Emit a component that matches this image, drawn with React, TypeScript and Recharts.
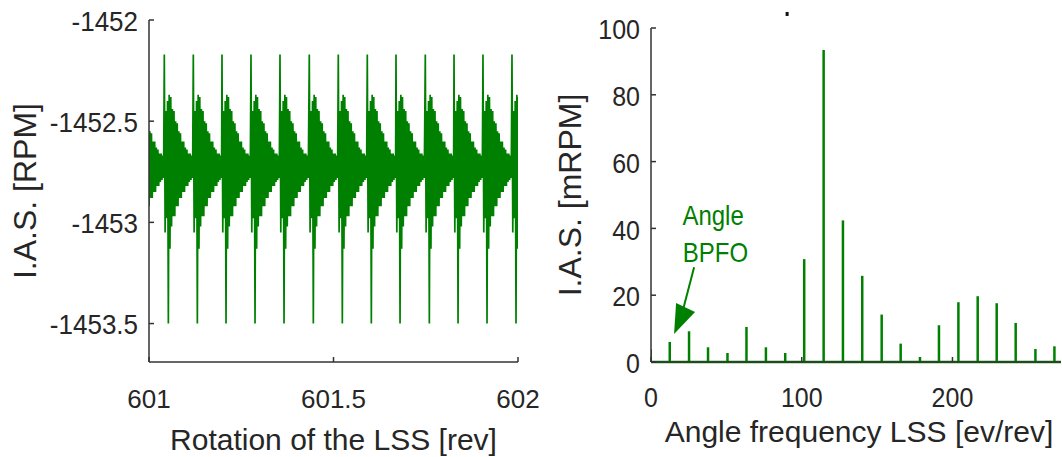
import React from 'react';
import {
  LineChart,
  Line,
  ComposedChart,
  Bar,
  XAxis,
  YAxis,
  Label,
  ReferenceLine,
  ReferenceDot,
} from 'recharts';

const FONT = '"Liberation Sans", Arial, Helvetica, sans-serif';
const INK = '#262626';
const AXIS = '#333333';
const GREEN = '#008000';

// left panel: shock instants (rev) and the damped I.A.S. burst that follows each one
const impactRevs = [
  600.9629, 601.0415, 601.1201, 601.1978, 601.2764, 601.355, 601.4344,
  601.513, 601.5916, 601.6694, 601.7488, 601.8266, 601.9051, 601.9837,
];
const burstStep = 0.002187; // rev between samples
const burstRpm = [
  -1452.17, -1453.05, -1452.45, -1452.98, -1452.4, -1453.5, -1452.37, -1453.13,
  -1452.38, -1453.02, -1452.44, -1452.97, -1452.45, -1452.97, -1452.5, -1452.92,
  -1452.51, -1452.92, -1452.55, -1452.88, -1452.56, -1452.88, -1452.6, -1452.85,
  -1452.6, -1452.85, -1452.63, -1452.82, -1452.64, -1452.82, -1452.66, -1452.8,
  -1452.66, -1452.79, -1452.67, -1452.78,
];
const revTicks = [601, 601.5, 602];
const rpmTicks = [-1453.5, -1453, -1452.5, -1452];

// right panel: order spectrum
const orderFreq = [
  0, 12.6, 25.4, 38.0, 50.9, 63.5, 76.4, 89.2, 101.8, 114.7, 127.5,
  140.3, 153.2, 165.8, 178.6, 191.2, 204.1, 216.9, 229.5, 242.1, 255.2, 267.8,
];
const orderAmp = [
  3.8, 6.0, 9.2, 4.4, 2.7, 10.5, 4.4, 2.7, 30.8, 93.4, 42.4,
  25.8, 14.2, 5.5, 1.5, 11.0, 17.9, 19.7, 17.6, 11.7, 3.9, 4.7,
];
const freqTicks = [0, 100, 200];
const ampTicks = [0, 20, 40, 60, 80, 100];

const iasTrace = impactRevs.flatMap((r0) =>
  burstRpm.map((v, i) => ({ rev: r0 + i * burstStep, ias: v }))
);
const spectrum = orderFreq.map((f, i) => ({ freq: f, amp: orderAmp[i] }));

const axisStyle = { stroke: AXIS, strokeWidth: 1.5 };

// the right panel of the source figure is drawn a bit taller than wide
const bottomTick = (size: number, stretch: number) => ({ x, y, payload }: any) => (
  <text
    transform={`translate(${x} ${y}) scale(1 ${stretch})`}
    textAnchor="middle"
    fontSize={size}
    fontFamily={FONT}
    fill={INK}
  >
    {payload.value}
  </text>
);

const leftTick = (size: number, stretch: number) => ({ x, y, payload }: any) => (
  <text
    transform={`translate(${x} ${y}) scale(1 ${stretch})`}
    dy="0.4em"
    textAnchor="end"
    fontSize={size}
    fontFamily={FONT}
    fill={INK}
  >
    {payload.value}
  </text>
);

const NoTick = () => <g />;

const yTitle = (text: string, dx: number) => (props: any) => {
  const { x, y, height } = props.viewBox;
  const cx = x + dx;
  const cy = y + height / 2;
  return (
    <text
      x={cx}
      y={cy}
      transform={`rotate(-90 ${cx} ${cy})`}
      textAnchor="middle"
      dominantBaseline="central"
      fontSize={32}
      fontFamily={FONT}
      fill={INK}
    >
      {text}
    </text>
  );
};

const xTitle = (text: string, dx: number, dy: number) => (props: any) => {
  const { x, y, width } = props.viewBox;
  return (
    <text x={x + width / 2 + dx} y={y + dy} textAnchor="middle" fontSize={30} fontFamily={FONT} fill={INK}>
      {text}
    </text>
  );
};

const noteText = (text: string) => (p: any) => (
  <text
    transform={`translate(${p.cx} ${p.cy}) scale(1 1.18)`}
    textAnchor="middle"
    fontSize={24}
    fontFamily={FONT}
    fill={GREEN}
  >
    {text}
  </text>
);

const arrowHead = (p: any) => (
  <polygon
    points={`${p.cx},${p.cy} ${p.cx + 2},${p.cy - 31} ${p.cx + 21},${p.cy - 22}`}
    fill={GREEN}
  />
);

const strayMark = (p: any) => <rect x={p.cx - 1.5} y={p.cy - 2} width={3} height={4} fill="#111" />;

function SpeedTrace() {
  return (
    <LineChart width={545} height={457} data={iasTrace} margin={{ top: 20, right: 27, bottom: 35, left: 0 }}>
      <XAxis
        dataKey="rev"
        type="number"
        domain={[601, 602]}
        ticks={revTicks}
        interval={0}
        allowDataOverflow
        height={60}
        tickSize={-5}
        tickMargin={51}
        tick={bottomTick(26, 1)}
        axisLine={axisStyle}
        tickLine={axisStyle}
      >
        <Label content={xTitle('Rotation of the LSS [rev]', 0, 88)} />
      </XAxis>
      <XAxis
        xAxisId="top"
        orientation="top"
        type="number"
        domain={[601, 602]}
        ticks={revTicks}
        allowDataOverflow
        height={0}
        tickSize={-5}
        tick={NoTick}
        axisLine={axisStyle}
        tickLine={axisStyle}
      />
      <YAxis
        type="number"
        domain={[-1453.69, -1452]}
        ticks={rpmTicks}
        interval={0}
        allowDataOverflow
        width={149}
        tickSize={-5}
        tickMargin={16}
        tick={leftTick(26, 1.05)}
        axisLine={axisStyle}
        tickLine={axisStyle}
      >
        <Label content={yTitle('I.A.S. [RPM]', 25)} />
      </YAxis>
      <YAxis
        yAxisId="right"
        orientation="right"
        type="number"
        domain={[-1453.69, -1452]}
        ticks={rpmTicks}
        allowDataOverflow
        width={0}
        tickSize={-5}
        tick={NoTick}
        axisLine={axisStyle}
        tickLine={axisStyle}
      />
      <Line
        type="linear"
        dataKey="ias"
        stroke={GREEN}
        strokeWidth={1.7}
        dot={false}
        isAnimationActive={false}
      />
    </LineChart>
  );
}

function OrderSpectrum() {
  return (
    <ComposedChart width={522} height={457} data={spectrum} margin={{ top: 28, right: 1, bottom: 35, left: 0 }}>
      <XAxis
        dataKey="freq"
        type="number"
        domain={[0, 272]}
        ticks={freqTicks}
        interval={0}
        allowDataOverflow
        height={60}
        tickSize={-5}
        tickMargin={50}
        tick={bottomTick(25, 1.12)}
        axisLine={axisStyle}
        tickLine={axisStyle}
      >
        <Label content={xTitle('Angle frequency LSS [ev/rev]', 3, 80)} />
      </XAxis>
      <XAxis
        xAxisId="top"
        orientation="top"
        type="number"
        domain={[0, 272]}
        ticks={freqTicks}
        allowDataOverflow
        height={0}
        tickSize={-5}
        tick={NoTick}
        axisLine={axisStyle}
        tickLine={axisStyle}
      />
      <YAxis
        type="number"
        domain={[0, 100]}
        ticks={ampTicks}
        interval={0}
        allowDataOverflow
        width={111}
        tickSize={-5}
        tickMargin={16}
        tick={leftTick(25, 1.12)}
        axisLine={axisStyle}
        tickLine={axisStyle}
      >
        <Label content={yTitle('I.A.S. [mRPM]', 30)} />
      </YAxis>
      <YAxis
        yAxisId="right"
        orientation="right"
        type="number"
        domain={[0, 100]}
        ticks={ampTicks}
        allowDataOverflow
        width={0}
        tickSize={-5}
        tick={NoTick}
        axisLine={axisStyle}
        tickLine={axisStyle}
      />
      <Bar dataKey="amp" barSize={2.5} fill={GREEN} isAnimationActive={false} />
      <ReferenceLine y={0} stroke={GREEN} strokeWidth={2.5} />
      <ReferenceLine
        segment={[
          { x: 28.6, y: 28.4 },
          { x: 21.2, y: 15.6 },
        ]}
        stroke={GREEN}
        strokeWidth={2}
      />
      <ReferenceDot x={15.3} y={8.4} r={0} shape={arrowHead} />
      <ReferenceDot x={41.2} y={41.0} r={0} shape={noteText('Angle')} />
      <ReferenceDot x={42.8} y={29.9} r={0} shape={noteText('BPFO')} />
      <ReferenceDot x={90.3} y={104.2} r={0} ifOverflow="visible" shape={strayMark} />
    </ComposedChart>
  );
}

export default function App() {
  return (
    <div style={{ position: 'absolute', left: 0, top: 0, width: 1062, height: 457, background: '#fff' }}>
      <div style={{ position: 'absolute', left: 0, top: 0 }}>
        <SpeedTrace />
      </div>
      <div style={{ position: 'absolute', left: 540, top: 0 }}>
        <OrderSpectrum />
      </div>
    </div>
  );
}
